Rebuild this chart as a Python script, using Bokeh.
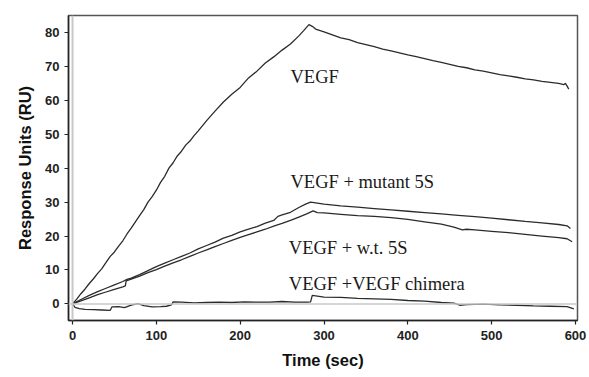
from bokeh.plotting import figure
from bokeh.models import Range1d, Span, FixedTicker, ColumnDataSource
from bokeh.core.properties import value
from bokeh.embed import file_html
from bokeh.resources import INLINE

# ---- data ----
vegf_t = [0, 5, 10, 15, 20, 25, 30, 35, 40, 45, 50, 55, 60, 65, 70, 75, 80, 85, 90, 95,
          100, 105, 110, 115, 120, 125, 130, 135, 140, 145, 150, 160, 170, 180, 190, 200,
          210, 220, 230, 240, 250, 260, 270, 276, 282,
          286, 290, 300, 310, 320, 330, 340, 350, 360, 370, 380, 390, 400, 410, 420, 430,
          440, 450, 460, 470, 480, 490, 500, 510, 520, 530, 540, 550, 560, 570, 580, 586,
          588, 590, 592]
vegf_v = [0, 1.4, 3.0, 4.4, 6.0, 7.4, 9.0, 10.4, 12.2, 14.0, 15.3, 17.0, 18.6, 20.6, 22.3,
          24.2, 26.0, 27.8, 30.0, 31.6, 33.5, 35.8, 37.6, 40.0, 41.6, 43.6, 45.0, 46.8, 48.0,
          49.6, 51.0, 54.0, 56.8, 59.5, 61.8, 63.8, 66.6, 68.6, 71.0, 72.8, 74.8, 76.6, 79.0,
          80.6, 82.3,
          81.8, 81.0, 80.2, 79.3, 78.4, 77.9, 77.0, 76.4, 75.8, 75.1, 74.6, 74.0, 73.4, 72.9,
          72.3, 71.7, 71.2, 70.6, 70.0, 69.6, 69.0, 68.6, 68.1, 67.6, 67.2, 66.8, 66.3, 66.0,
          65.6, 65.3, 65.0, 64.6, 65.0, 64.2, 63.3]

mut_t = [0, 10, 20, 30, 40, 50, 60, 65, 70, 80, 90, 100, 110, 120, 130, 140, 150, 160, 170,
         180, 190, 200, 210, 220, 230, 240, 245, 250, 260, 270, 278, 284, 290, 300, 320, 340,
         360, 380, 400, 420, 440, 460, 480, 500, 520, 540, 560, 580, 590, 594]
mut_v = [0, 1.3, 2.5, 3.6, 4.6, 5.6, 6.6, 7.2, 7.6, 8.6, 9.8, 11.0, 12.0, 13.0, 14.0, 15.0,
         16.2, 17.2, 18.2, 19.4, 20.2, 21.2, 22.0, 22.8, 23.8, 24.6, 25.8, 26.2, 27.0, 28.4,
         29.4, 30.0, 29.8, 29.4, 28.9, 28.5, 28.1, 27.7, 27.3, 26.9, 26.5, 26.1, 25.7, 25.3,
         24.8, 24.3, 23.9, 23.4, 23.0, 22.2]

wt_t = [0, 10, 20, 30, 40, 50, 60, 63, 64, 70, 80, 90, 100, 110, 120, 130, 140, 150, 160,
        170, 180, 190, 200, 210, 220, 230, 240, 250, 260, 270, 280, 287, 292, 300, 320, 340,
        360, 380, 400, 420, 440, 455, 465, 470, 480, 500, 520, 540, 560, 580, 590, 596]
wt_v = [0, 0.9, 1.8, 2.7, 3.5, 4.3, 5.0, 5.3, 6.8, 7.3, 8.2, 9.2, 10.1, 11.1, 12.1, 13.0,
        14.0, 15.0, 15.9, 16.9, 17.8, 18.7, 19.6, 20.4, 21.2, 22.0, 22.9, 23.7, 24.6, 25.6,
        26.6, 27.4, 26.9, 26.8, 26.4, 26.0, 25.8, 25.4, 24.9, 24.2, 23.5, 22.6, 21.8, 22.0,
        21.8, 21.4, 21.0, 20.5, 20.0, 19.5, 19.2, 18.3]

chim_t = [0, 3, 8, 15, 25, 35, 45, 47, 55, 62, 70, 78, 85, 95, 105, 112, 118, 120, 130, 145,
          160, 175, 190, 205, 220, 235, 250, 265, 280, 284, 286, 292, 300, 320, 340, 360, 380,
          400, 420, 440, 455, 462, 470, 490, 510, 530, 550, 570, 590, 598]
chim_v = [0, -1.0, -1.4, -1.6, -1.7, -1.8, -1.9, -0.9, -0.8, -1.1, -0.4, 0.1, -0.5, -0.9,
          -0.8, -0.7, -0.3, 0.6, 0.5, 0.3, 0.4, 0.5, 0.4, 0.6, 0.5, 0.5, 0.7, 0.5, 0.5, 0.6,
          2.5, 2.3, 2.0, 1.9, 1.6, 1.5, 1.3, 1.0, 0.8, 0.4, 0.2, -0.4, -0.2, -0.1, -0.3, -0.4,
          -0.6, -0.7, -0.8, -1.5]

label_text = ["VEGF", "VEGF + mutant 5S", "VEGF + w.t. 5S", "VEGF +VEGF chimera"]
label_x = [260, 260, 258, 258]
label_y = [66.8, 35.8, 16.6, 6.0]

x_ticks = [0, 100, 200, 300, 400, 500, 600]
y_ticks = [0, 10, 20, 30, 40, 50, 60, 70, 80]

# ---- figure ----
p = figure(width=587, height=375, output_backend="svg", toolbar_location=None,
           x_range=Range1d(-4.8, 602.4), y_range=Range1d(-4.9, 85.0),
           min_border_left=68, min_border_right=10, min_border_top=15, min_border_bottom=55)
p.xgrid.visible = False
p.ygrid.visible = False
p.outline_line_color = "#555555"
p.outline_line_width = 1.5
p.background_fill_color = "white"
p.border_fill_color = "white"

p.add_layout(Span(location=0, dimension="height", line_color="#c8c8c8", line_width=2))
p.add_layout(Span(location=0, dimension="width", line_color="#c8c8c8", line_width=1.5))

line_color = "#2b2b2b"
for t, v in [(vegf_t, vegf_v), (mut_t, mut_v), (wt_t, wt_v), (chim_t, chim_v)]:
    p.line(t, v, line_color=line_color, line_width=1.3)

src = ColumnDataSource(dict(x=label_x, y=label_y, text=label_text))
p.text(x="x", y="y", text="text", source=src, text_font=value("Liberation Serif"),
       text_font_size="18.5px", text_color="#1a1a1a", text_baseline="alphabetic",
       text_align="left")

for ax in (p.xaxis[0], p.yaxis[0]):
    ax.axis_line_color = "#222222"
    ax.axis_line_width = 1.5
    ax.major_tick_line_color = "#222222"
    ax.major_tick_line_width = 1.2
    ax.major_tick_out = 4
    ax.major_tick_in = 0
    ax.minor_tick_line_color = None
    ax.major_label_text_font = "Liberation Sans"
    ax.major_label_text_font_style = "bold"
    ax.major_label_text_font_size = "13px"
    ax.major_label_text_color = "#222222"
    ax.axis_label_text_font = "Liberation Sans"
    ax.axis_label_text_font_style = "bold"
    ax.axis_label_text_font_size = "16.5px"
    ax.axis_label_text_color = "#111111"

p.xaxis.ticker = FixedTicker(ticks=x_ticks)
p.yaxis.ticker = FixedTicker(ticks=y_ticks)
p.xaxis.axis_label = "Time (sec)"
p.yaxis.axis_label = "Response Units (RU)"
p.xaxis.major_label_standoff = 6
p.yaxis.major_label_standoff = 5
p.xaxis.axis_label_standoff = 8
p.yaxis.axis_label_standoff = 8

open("out.html", "w").write(file_html(p, INLINE))
